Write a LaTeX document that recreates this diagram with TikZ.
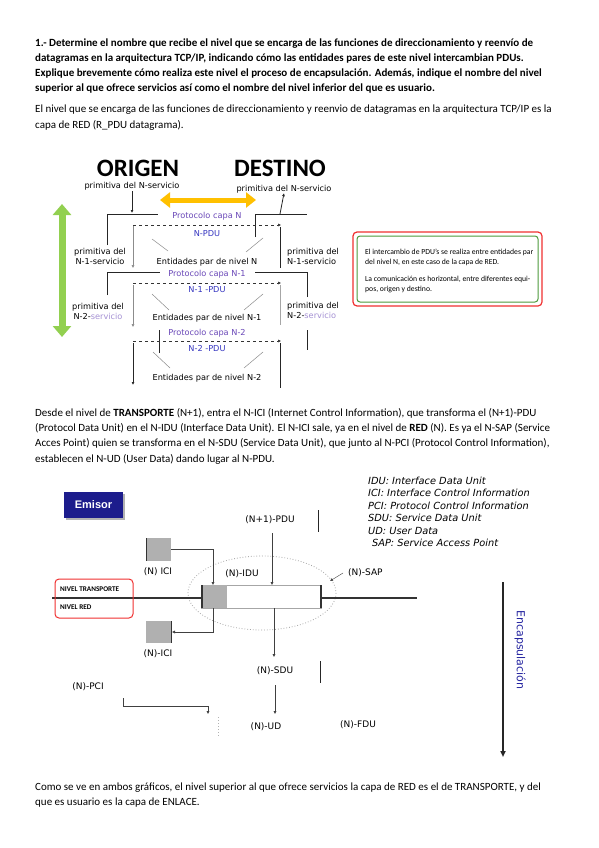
\documentclass[tikz,border=0pt]{standalone}
\usepackage{fontspec}
\setmainfont{Carlito}
\newfontfamily\diagfont{DejaVu Sans}
\newfontfamily\headfont{Liberation Sans}
\usetikzlibrary{arrows.meta}

\definecolor{protocol}{HTML}{6A48B8}
\definecolor{pdublue}{HTML}{3535C0}
\definecolor{emisorblue}{HTML}{1C1C8C}
\definecolor{encblue}{HTML}{2424A0}
\definecolor{orangearrow}{HTML}{FFC000}
\definecolor{greenarrow}{HTML}{92D050}
\definecolor{boxgreen}{HTML}{4E9A3C}
\definecolor{boxred}{HTML}{F03030}
\definecolor{squaregray}{HTML}{B0B0B0}

\tikzset{
  bodyline/.style={anchor=west,inner sep=0pt,font=\fontsize{11}{13}\selectfont},
  boldline/.style={bodyline,font=\fontsize{11}{13}\selectfont\bfseries},
  lbl/.style={inner sep=0pt,font=\diagfont\fontsize{8.2}{10}\selectfont},
  lbltwo/.style={inner sep=0pt,font=\diagfont\fontsize{9}{10}\selectfont},
  legend/.style={anchor=west,inner sep=0pt,font=\diagfont\itshape\fontsize{9.8}{11}\selectfont},
  boxtext/.style={anchor=west,inner sep=0pt,font=\fontsize{7.7}{8}\selectfont},
  smallarrow/.style={-{Latex[length=3pt,width=3pt]}},
  wire/.style={line width=0.8pt,black!85},
  peerline/.style={black!80,dashed,line width=0.5pt},
  gline/.style={black!45,line width=0.5pt}
}

\begin{document}
\begin{tikzpicture}[x=1pt,y=-1pt]
\fill[white] (0,0) rectangle (599,848);
\useasboundingbox (0,0) rectangle (599,848);
% Question
\node[boldline] (q1) at (35,44) {1.- Determine el nombre que recibe el nivel que se encarga de las funciones de direccionamiento y reenvío de};
\node[boldline] (q2) at (35,59) {datagramas en la arquitectura TCP/IP, indicando cómo las entidades pares de este nivel intercambian PDUs.};
\node[boldline] (q3) at (35,74) {Explique brevemente cómo realiza este nivel el proceso de encapsulación. Además, indique el nombre del nivel};
\node[boldline] (q4) at (35,89) {superior al que ofrece servicios así como el nombre del nivel inferior del que es usuario.};
% Answer, first part
\node[bodyline] (a1) at (35,110) {El nivel que se encarga de las funciones de direccionamiento y reenvio de datagramas en la arquitectura TCP/IP es la};
\node[bodyline] (a2) at (35,125) {capa de RED (R\_PDU datagrama).};
% Diagram 1: origen / destino
\node[inner sep=0pt,font=\fontsize{25}{27}\selectfont\bfseries] (origen) at (138,168) {ORIGEN};
\node[inner sep=0pt,font=\fontsize{25}{27}\selectfont\bfseries] (destino) at (280,168) {DESTINO};
\node[lbl] (primN1) at (132,186) {primitiva del N-servicio};
\node[lbl] (primN2) at (284,189) {primitiva del N-servicio};
\draw[orangearrow,line width=5pt,{Triangle[length=10pt,width=15pt]}-{Triangle[length=10pt,width=15pt]}] (160,200) -- (256,200);
\draw[greenarrow,line width=7pt,{Triangle[length=11pt,width=18pt]}-{Triangle[length=11pt,width=18pt]}] (62,204) -- (62,337);
% Level N
\draw[wire,smallarrow] (primN1.south) ++(0,1) -- (132,213);
\draw[wire] (107,245) -- (107,214) -- (158,214);
\draw[wire] (255,237) -- (255,214) -- (307,214);
\draw[wire,smallarrow] (280,214) -- (primN2.south);
\node[lbl,text=protocol] (protN) at (207,216) {Protocolo capa N};
\node[lbl,text=pdublue] (pduN) at (207,234) {N-PDU};
\node[lbl] (entN) at (207,262) {Entidades par de nivel N};
\draw[peerline,smallarrow] (133,225) -- (281,225);
\draw[gline,smallarrow] (133,226) -- (133,268);
\draw[wire] (280,227) -- (280,268);
\draw[gline] (152,239) -- (168,251);
\draw[gline] (246,252) -- (263,238);
\node[lbl,align=center] (primL1) at (100,256) {primitiva del\\N-1-servicio};
\node[lbl,align=left,anchor=west] (primR1) at (287,256) {primitiva del\\N-1-servicio};
% Level N-1
\draw[wire] (107,295) -- (107,272) -- (160,272);
\draw[wire] (307,297) -- (307,272) -- (255,272);
\node[lbl,text=protocol] (protN1) at (207,274) {Protocolo capa N-1};
\node[lbl,text=pdublue] (pduN1) at (207,290) {N-1 -PDU};
\node[lbl] (entN1) at (207,318) {Entidades par de nivel N-1};
\draw[peerline,smallarrow] (133,283) -- (281,283);
\draw[gline,smallarrow] (133,285) -- (133,327);
\draw[black!35,line width=1pt] (280,285) -- (280,325);
\draw[gline] (152,294) -- (169,310);
\draw[gline] (244,310) -- (263,294);
\node[lbl,align=center] (primL2) at (98,311) {primitiva del\\N-2-{\color{protocol!60}servicio}};
\node[lbl,align=left,anchor=west] (primR2) at (287,310) {primitiva del\\N-2-{\color{protocol!60}servicio}};
% Level N-2
\draw[wire] (159,330) -- (159,353);
\draw[wire] (307,330) -- (307,350);
\node[lbl,text=protocol] (protN2) at (207,333) {Protocolo capa N-2};
\node[lbl,text=pdublue] (pduN2) at (207,349) {N-2 -PDU};
\node[lbl] (entN2) at (207,378) {Entidades par de nivel N-2};
\draw[peerline,smallarrow] (133,341) -- (281,341);
\draw[wire,smallarrow] (133,343) -- (133,385);
\draw[wire] (280,343) -- (280,388);
\draw[gline] (153,352) -- (170,368);
\draw[gline] (244,368) -- (263,352);
% Note box
\draw[boxred,line width=1.2pt,rounded corners=4pt] (353,232) rectangle (542,306);
\draw[boxgreen,line width=1pt,rounded corners=3pt] (357,236) rectangle (538,302);
\node[boxtext] (note1) at (365,252) {El intercambio de PDU's se realiza entre entidades par};
\node[boxtext] (note2) at (365,262) {del nivel N, en este caso de la capa de RED.};
\node[boxtext] (note3) at (365,279) {La comunicación es horizontal, entre diferentes equi-};
\node[boxtext] (note4) at (365,289) {pos, origen y destino.};
% Answer, second part
\node[bodyline] (b1) at (35,413) {Desde el nivel de \textbf{TRANSPORTE} (N+1), entra el N-ICI (Internet Control Information), que transforma el (N+1)-PDU};
\node[bodyline] (b2) at (35,428) {(Protocol Data Unit) en el N-IDU (Interface Data Unit). El N-ICI sale, ya en el nivel de \textbf{RED} (N). Es ya el N-SAP (Service};
\node[bodyline] (b3) at (35,443) {Acces Point) quien se transforma en el N-SDU (Service Data Unit), que junto al N-PCI (Protocol Control Information),};
\node[bodyline] (b4) at (35,459) {establecen el N-UD (User Data) dando lugar al N-PDU.};
% Diagram 2: emisor
\fill[black!30] (66,494) rectangle (125,520);
\node[fill=emisorblue,text=white,minimum width=59pt,minimum height=26pt,inner sep=0pt,font=\headfont\bfseries\fontsize{11}{12}\selectfont] (emisor) at (93.5,505) {Emisor};
\node[legend] (leg1) at (368,481) {IDU: Interface Data Unit};
\node[legend] (leg2) at (368,493) {ICI: Interface Control Information};
\node[legend] (leg3) at (368,506) {PCI: Protocol Control Information};
\node[legend] (leg4) at (368,518) {SDU: Service Data Unit};
\node[legend] (leg5) at (368,531) {UD: User Data};
\node[legend] (leg6) at (372,543) {SAP: Service Access Point};
% transport / network boundary
\draw[gray!70,dotted,line width=0.8pt] (262,593) ellipse (74 and 37);
\draw[black!80,line width=1.5pt] (52,598) -- (201,598);
\draw[black!80,line width=1.5pt] (321,598) -- (417,598);
\draw[boxred,line width=1pt,rounded corners=4pt] (55,579) rectangle (133,618);
\node[anchor=west,inner sep=0pt,font=\fontsize{7.2}{8}\selectfont\bfseries] (transp) at (60,589) {NIVEL TRANSPORTE};
\node[anchor=west,inner sep=0pt,font=\fontsize{7.2}{8}\selectfont\bfseries] (red) at (60,607) {NIVEL RED};
\draw[gray!70,fill=white] (201,585) rectangle (321,608);
\fill[squaregray] (202,585) rectangle (227,608);
\draw[black!80,line width=1.2pt] (202,585) -- (202,608);
\draw[black!80,line width=1.2pt] (321,585) -- (321,608);
% (N+1)-PDU and ICI in
\node[lbltwo] (pduup) at (270,520) {(N+1)-PDU};
\draw[wire] (318,510) -- (318,532);
\draw[black!75,smallarrow] (272,533) -- (272,585);
\fill[squaregray] (146,538) rectangle (171,561);
\draw[black!80,line width=1pt] (146,538) -- (146,561);
\draw[black!75,smallarrow] (171,549) -- (213,549) -- (213,585);
\node[lbltwo] (iciup) at (158,572) {(N) ICI};
\node[lbltwo] (idu) at (242,574) {(N)-IDU};
\node[lbltwo,anchor=west] (sap) at (348,573) {(N)-SAP};
\draw[black!75,smallarrow] (343,573) -- (330,581);
% ICI out, SDU, UD
\fill[squaregray] (146,621) rectangle (171,643);
\draw[black!80,line width=1pt] (171,621) -- (171,643);
\draw[black!75,smallarrow] (213,608) -- (213,632) -- (172,632);
\node[lbltwo] (icidown) at (158,654) {(N)-ICI};
\draw[black!75,smallarrow] (274,608) -- (274,657);
\node[lbltwo] (sdu) at (275,671) {(N)-SDU};
\draw[wire] (320,661) -- (320,683);
\draw[black!75,smallarrow] (275,685) -- (275,714);
\node[lbltwo] (ud) at (266,727) {(N)-UD};
\node[lbltwo] (pci) at (88,687) {(N)-PCI};
\draw[black!75,smallarrow] (123,698) -- (123,706) -- (208,706) -- (208,714);
\draw[gray!60,dotted,line width=1pt] (218,717) -- (218,737);
\node[lbltwo] (fdu) at (358,725) {(N)-FDU};
% Encapsulation
\draw[black!85,line width=1.6pt,-{Triangle[length=6pt,width=5pt]}] (503,582) -- (503,757);
\node[rotate=-90,inner sep=0pt,text=encblue,font=\diagfont\fontsize{11}{12}\selectfont] (encap) at (520,650) {Encapsulación};
% Conclusion
\node[bodyline] (c1) at (35,788) {Como se ve en ambos gráficos, el nivel superior al que ofrece servicios la capa de RED es el de TRANSPORTE, y del};
\node[bodyline] (c2) at (35,803) {que es usuario es la capa de ENLACE.};
\end{tikzpicture}
\end{document}
